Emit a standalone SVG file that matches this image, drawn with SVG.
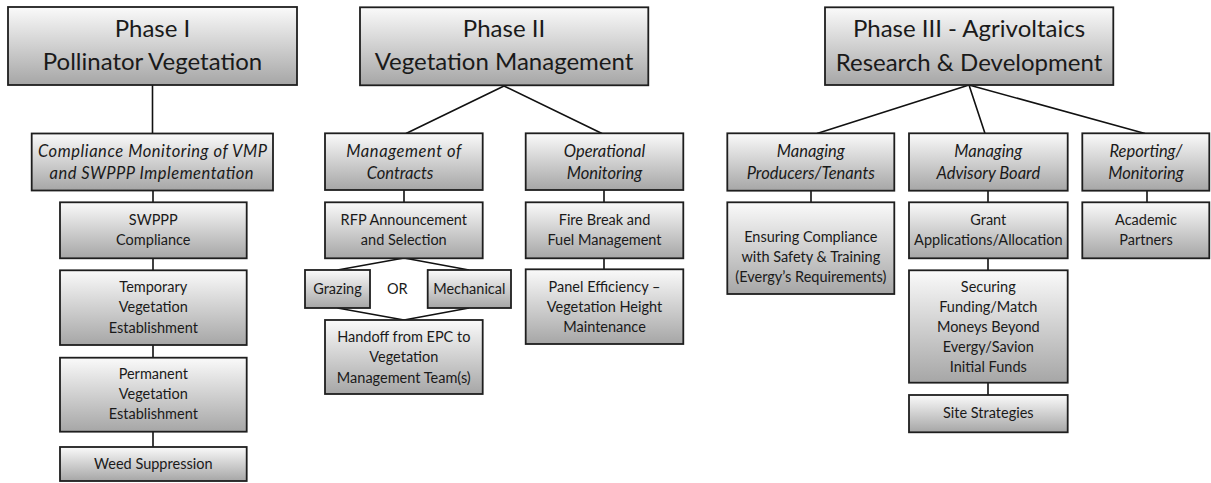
<svg xmlns="http://www.w3.org/2000/svg" width="1211" height="483" viewBox="0 0 1211 483">
<defs>
<linearGradient id="g" x1="0" y1="0" x2="0" y2="1">
<stop offset="0" stop-color="#fafafa"/>
<stop offset="1" stop-color="#a6a6a6"/>
</linearGradient>
<style>
.box{fill:url(#g);stroke:#1e1e1e;stroke-width:1.8}
.t{font-family:Lato,"Liberation Sans",sans-serif;fill:#1a1a1a;text-anchor:middle}
.h{font-size:24px}
.s{font-size:16.5px;font-style:italic}
.b{font-size:14.5px}
.c{stroke:#111;stroke-width:1.6;fill:none}
</style>
</defs>
<rect width="1211" height="483" fill="#ffffff"/>
<g id="connectors" class="c">
<path d="M152.5 85V134M153 191V202M153 258V270M153 345V358M153 432V447"/>
<path d="M504 86L406 133.5M504 86L602 133.5M404 190V202M604 190V202M604 258V270M404 258L337.5 270M404 258L469 270M337.5 308L404 320M469 308L404 320"/>
<path d="M969 85L817 133.5M969 85L985 133.5M969 85L1145 133.5M811 191V202M988 191V202M1147 191V202M988 258V270M988 383V395"/>
</g>
<g id="phase1">
<rect class="box" x="8" y="7" width="289" height="78"/>
<text class="t h" x="152.5" y="36.7">Phase I</text>
<text class="t h" x="152.5" y="70">Pollinator Vegetation</text>
</g>
<g id="compliance-monitoring">
<rect class="box" x="31.7" y="133.5" width="241.3" height="57"/>
<text class="t s" x="152.5" y="156.7" textLength="229">Compliance Monitoring of VMP</text>
<text class="t s" x="151.5" y="179" textLength="204">and SWPPP Implementation</text>
</g>
<g id="swppp">
<rect class="box" x="60" y="202.3" width="186.7" height="56"/>
<text class="t b" x="153.3" y="225">SWPPP</text>
<text class="t b" x="153.3" y="245">Compliance</text>
</g>
<g id="temporary">
<rect class="box" x="60" y="270.3" width="186.7" height="74.7"/>
<text class="t b" x="153.3" y="291.7">Temporary</text>
<text class="t b" x="153.3" y="311.7">Vegetation</text>
<text class="t b" x="153.3" y="332.5">Establishment</text>
</g>
<g id="permanent">
<rect class="box" x="60" y="357.7" width="186.7" height="74"/>
<text class="t b" x="153.3" y="378.5">Permanent</text>
<text class="t b" x="153.3" y="398.5">Vegetation</text>
<text class="t b" x="153.3" y="419">Establishment</text>
</g>
<g id="weed">
<rect class="box" x="60" y="447" width="186.7" height="34"/>
<text class="t b" x="153.3" y="469.3">Weed Suppression</text>
</g>
<g id="phase2">
<rect class="box" x="360" y="7.3" width="288.3" height="78"/>
<text class="t h" x="504" y="36.7">Phase II</text>
<text class="t h" x="504" y="70">Vegetation Management</text>
</g>
<g id="management-contracts">
<rect class="box" x="325" y="133.3" width="157.7" height="56.7"/>
<text class="t s" x="403.8" y="156.7" textLength="115">Management of</text>
<text class="t s" x="400" y="179">Contracts</text>
</g>
<g id="operational-monitoring">
<rect class="box" x="525.7" y="133.3" width="157.6" height="56.7"/>
<text class="t s" x="604.5" y="156.7">Operational</text>
<text class="t s" x="604.5" y="179">Monitoring</text>
</g>
<g id="rfp">
<rect class="box" x="325" y="202.3" width="157.7" height="56"/>
<text class="t b" x="403.8" y="225">RFP Announcement</text>
<text class="t b" x="403.8" y="245">and Selection</text>
</g>
<g id="fire-break">
<rect class="box" x="525.7" y="202.3" width="157.6" height="56"/>
<text class="t b" x="604.5" y="225">Fire Break and</text>
<text class="t b" x="604.5" y="245">Fuel Management</text>
</g>
<g id="grazing">
<rect class="box" x="305" y="270" width="65" height="38"/>
<text class="t b" x="337.5" y="294">Grazing</text>
</g>
<g id="or-label">
<text class="t b" x="397.3" y="294">OR</text>
</g>
<g id="mechanical">
<rect class="box" x="427.7" y="270" width="83.3" height="38"/>
<text class="t b" x="469.3" y="294">Mechanical</text>
</g>
<g id="handoff">
<rect class="box" x="325" y="320" width="157.7" height="74"/>
<text class="t b" x="403.8" y="341.7">Handoff from EPC to</text>
<text class="t b" x="403.8" y="361.7">Vegetation</text>
<text class="t b" x="403.8" y="382.7">Management Team(s)</text>
</g>
<g id="panel-efficiency">
<rect class="box" x="525.7" y="269.3" width="157.6" height="74.7"/>
<text class="t b" x="604.5" y="291.7">Panel Efficiency –</text>
<text class="t b" x="604.5" y="311.7">Vegetation Height</text>
<text class="t b" x="604.5" y="332">Maintenance</text>
</g>
<g id="phase3">
<rect class="box" x="825" y="7.3" width="288.3" height="77.7"/>
<text class="t h" x="969" y="36.7">Phase III - Agrivoltaics</text>
<text class="t h" x="969" y="70.5">Research &amp; Development</text>
</g>
<g id="managing-producers">
<rect class="box" x="727.3" y="133.3" width="167" height="57.4"/>
<text class="t s" x="810.8" y="156.7">Managing</text>
<text class="t s" x="810.8" y="179">Producers/Tenants</text>
</g>
<g id="managing-advisory">
<rect class="box" x="909" y="133.3" width="158.7" height="57.4"/>
<text class="t s" x="988.3" y="156.7">Managing</text>
<text class="t s" x="988.3" y="179">Advisory Board</text>
</g>
<g id="reporting">
<rect class="box" x="1082.3" y="133.3" width="127" height="57.4"/>
<text class="t s" x="1146" y="156.7">Reporting/</text>
<text class="t s" x="1146" y="179">Monitoring</text>
</g>
<g id="ensuring-compliance">
<rect class="box" x="727.3" y="202.3" width="167" height="91.7"/>
<text class="t b" x="810.8" y="242">Ensuring Compliance</text>
<text class="t b" x="810.8" y="262">with Safety &amp; Training</text>
<text class="t b" x="810.8" y="282">(Evergy’s Requirements)</text>
</g>
<g id="grant">
<rect class="box" x="909" y="202.3" width="158.7" height="56"/>
<text class="t b" x="988.3" y="225">Grant</text>
<text class="t b" x="988.3" y="245">Applications/Allocation</text>
</g>
<g id="securing">
<rect class="box" x="909" y="270.3" width="158.7" height="112.4"/>
<text class="t b" x="988.3" y="291.7">Securing</text>
<text class="t b" x="988.3" y="311.7">Funding/Match</text>
<text class="t b" x="988.3" y="331.7">Moneys Beyond</text>
<text class="t b" x="988.3" y="351.7">Evergy/Savion</text>
<text class="t b" x="988.3" y="371.7">Initial Funds</text>
</g>
<g id="site-strategies">
<rect class="box" x="909" y="395" width="158.7" height="37.3"/>
<text class="t b" x="988.3" y="418">Site Strategies</text>
</g>
<g id="academic">
<rect class="box" x="1082.3" y="202.3" width="127" height="56"/>
<text class="t b" x="1146" y="225">Academic</text>
<text class="t b" x="1146" y="245">Partners</text>
</g>
</svg>
